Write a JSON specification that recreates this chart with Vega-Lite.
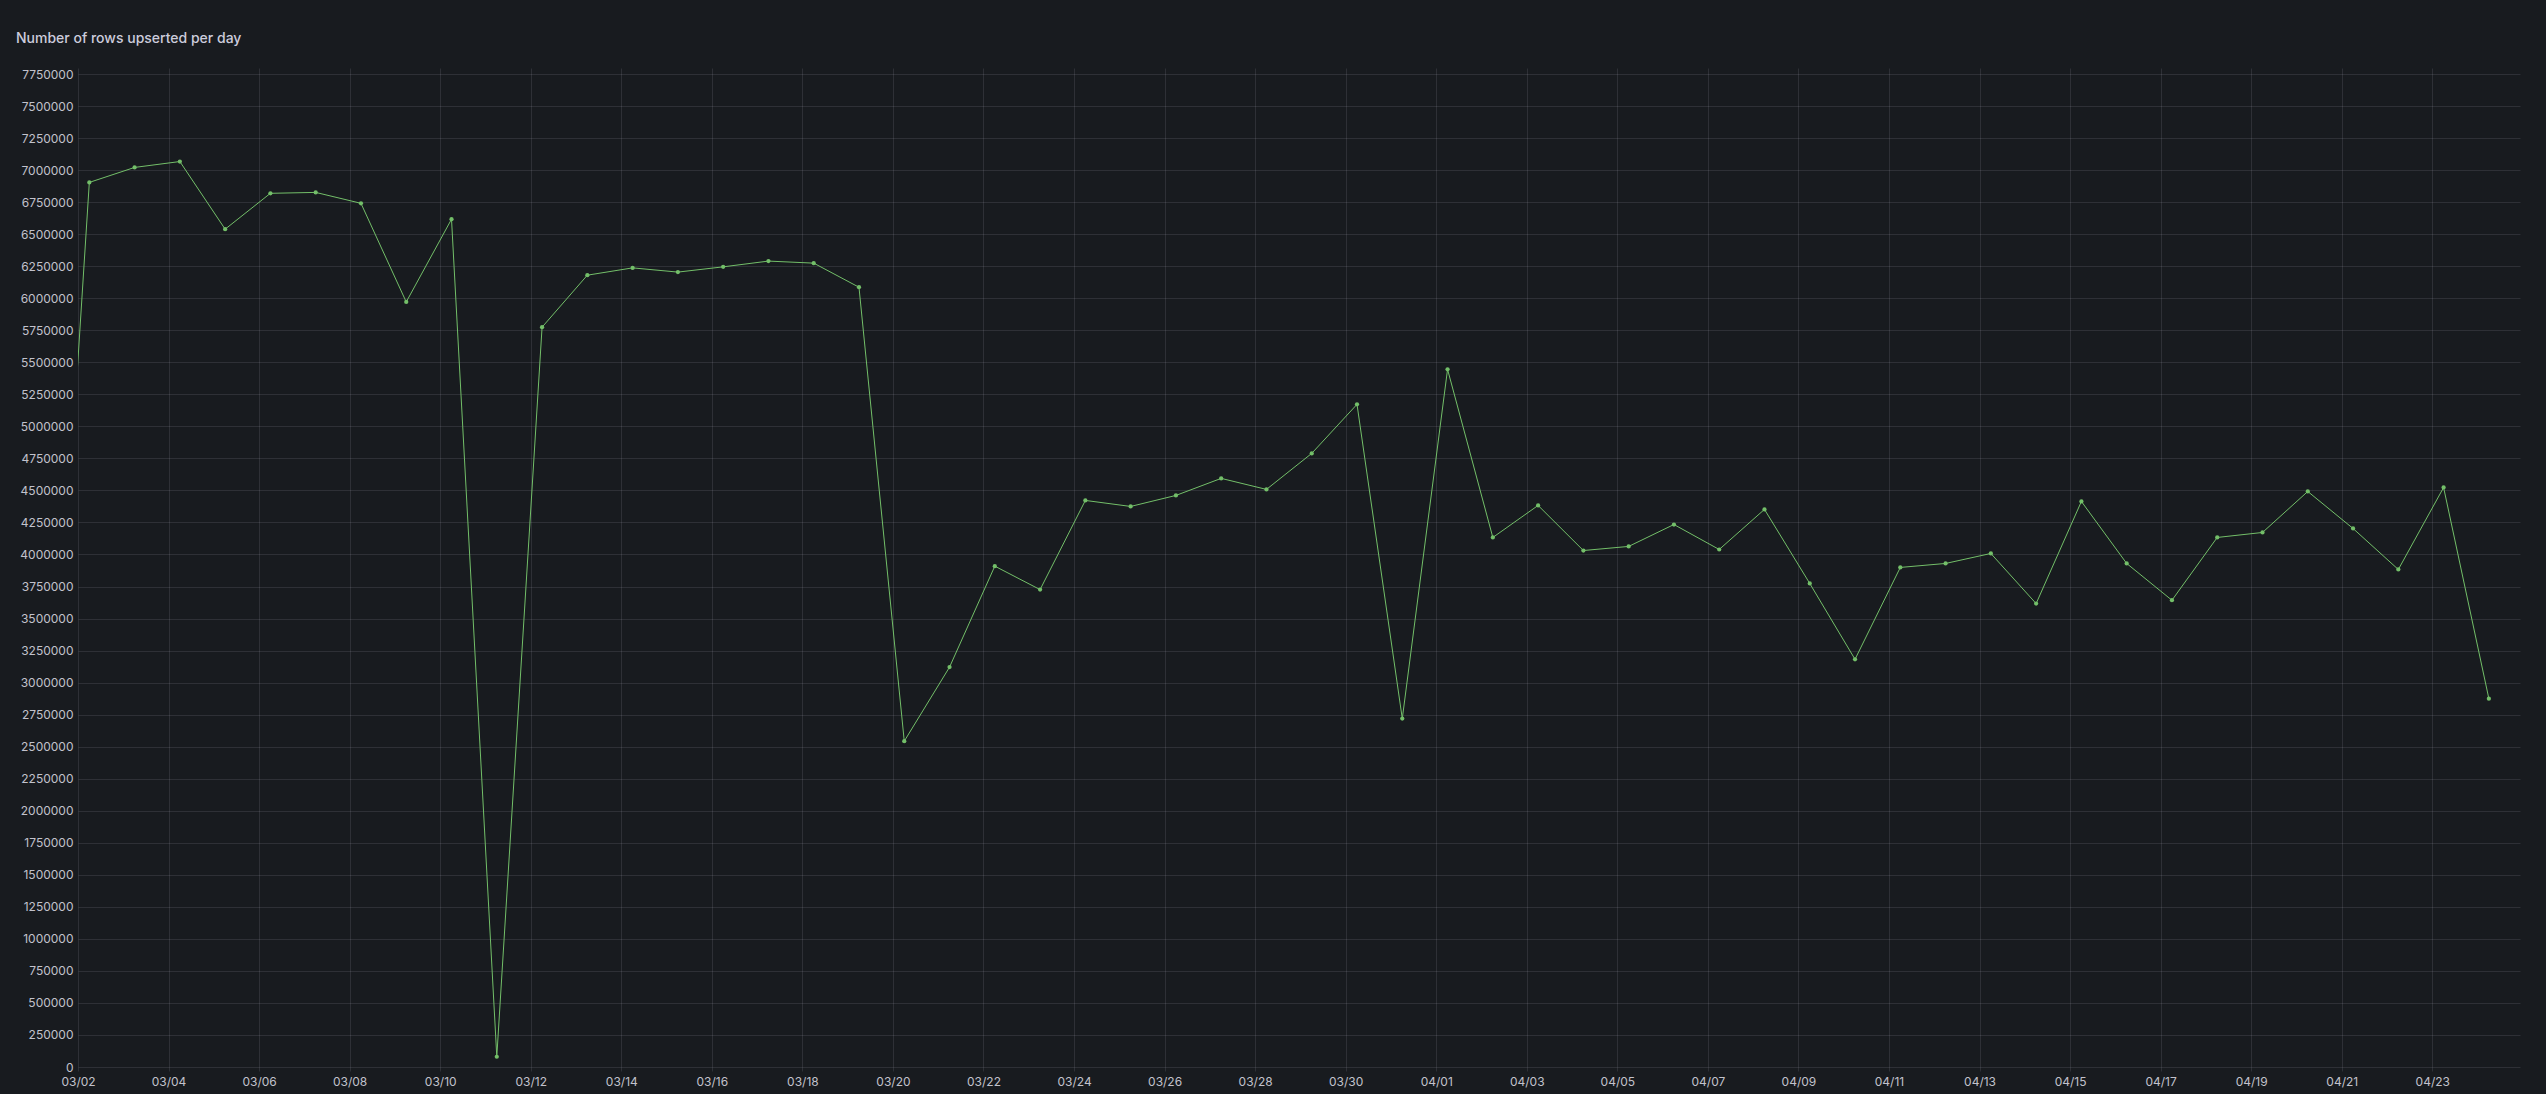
{
  "$schema": "https://vega.github.io/schema/vega-lite/v6.json",
  "width": 2442,
  "height": 999,
  "autosize": {"type": "none"},
  "padding": {"left": 78, "top": 68, "right": 26, "bottom": 27},
  "background": "#181b1f",
  "title": {
    "text": "Number of rows upserted per day",
    "anchor": "start",
    "frame": "group",
    "dx": -62,
    "offset": 22,
    "font": "Inter",
    "fontSize": 14,
    "fontWeight": 500,
    "color": "#ccccdc"
  },
  "data": {
    "values": [
      {"t": "2024-03-01T06:00", "v": 1380000},
      {"t": "2024-03-02T06:00", "v": 6904000},
      {"t": "2024-03-03T06:00", "v": 7021000},
      {"t": "2024-03-04T06:00", "v": 7067000},
      {"t": "2024-03-05T06:00", "v": 6539000},
      {"t": "2024-03-06T06:00", "v": 6819000},
      {"t": "2024-03-07T06:00", "v": 6826000},
      {"t": "2024-03-08T06:00", "v": 6741000},
      {"t": "2024-03-09T06:00", "v": 5971000},
      {"t": "2024-03-10T06:00", "v": 6617000},
      {"t": "2024-03-11T06:00", "v": 80000},
      {"t": "2024-03-12T06:00", "v": 5774000},
      {"t": "2024-03-13T06:00", "v": 6180000},
      {"t": "2024-03-14T06:00", "v": 6237000},
      {"t": "2024-03-15T06:00", "v": 6204000},
      {"t": "2024-03-16T06:00", "v": 6245000},
      {"t": "2024-03-17T06:00", "v": 6290000},
      {"t": "2024-03-18T06:00", "v": 6274000},
      {"t": "2024-03-19T06:00", "v": 6086000},
      {"t": "2024-03-20T06:00", "v": 2543000},
      {"t": "2024-03-21T06:00", "v": 3121000},
      {"t": "2024-03-22T06:00", "v": 3909000},
      {"t": "2024-03-23T06:00", "v": 3726000},
      {"t": "2024-03-24T06:00", "v": 4422000},
      {"t": "2024-03-25T06:00", "v": 4375000},
      {"t": "2024-03-26T06:00", "v": 4461000},
      {"t": "2024-03-27T06:00", "v": 4594000},
      {"t": "2024-03-28T06:00", "v": 4508000},
      {"t": "2024-03-29T06:00", "v": 4789000},
      {"t": "2024-03-30T06:00", "v": 5172000},
      {"t": "2024-03-31T06:00", "v": 2719000},
      {"t": "2024-04-01T06:00", "v": 5445000},
      {"t": "2024-04-02T06:00", "v": 4133000},
      {"t": "2024-04-03T06:00", "v": 4383000},
      {"t": "2024-04-04T06:00", "v": 4031000},
      {"t": "2024-04-05T06:00", "v": 4063000},
      {"t": "2024-04-06T06:00", "v": 4234000},
      {"t": "2024-04-07T06:00", "v": 4039000},
      {"t": "2024-04-08T06:00", "v": 4352000},
      {"t": "2024-04-09T06:00", "v": 3774000},
      {"t": "2024-04-10T06:00", "v": 3182000},
      {"t": "2024-04-11T06:00", "v": 3899000},
      {"t": "2024-04-12T06:00", "v": 3930000},
      {"t": "2024-04-13T06:00", "v": 4008000},
      {"t": "2024-04-14T06:00", "v": 3617000},
      {"t": "2024-04-15T06:00", "v": 4414000},
      {"t": "2024-04-16T06:00", "v": 3930000},
      {"t": "2024-04-17T06:00", "v": 3643000},
      {"t": "2024-04-18T06:00", "v": 4133000},
      {"t": "2024-04-19T06:00", "v": 4172000},
      {"t": "2024-04-20T06:00", "v": 4492000},
      {"t": "2024-04-21T06:00", "v": 4203000},
      {"t": "2024-04-22T06:00", "v": 3883000},
      {"t": "2024-04-23T06:00", "v": 4523000},
      {"t": "2024-04-24T06:00", "v": 2875000}
    ]
  },
  "encoding": {
    "x": {
      "field": "t",
      "type": "temporal",
      "title": null,
      "scale": {
        "domain": [
          {"year": 2024, "month": 3, "date": 2},
          {"year": 2024, "month": 4, "date": 24, "hours": 22, "minutes": 30}
        ],
        "nice": false
      },
      "axis": {
        "format": "%m/%d",
        "values": [
          {"year": 2024, "month": 3, "date": 2},
          {"year": 2024, "month": 3, "date": 4},
          {"year": 2024, "month": 3, "date": 6},
          {"year": 2024, "month": 3, "date": 8},
          {"year": 2024, "month": 3, "date": 10},
          {"year": 2024, "month": 3, "date": 12},
          {"year": 2024, "month": 3, "date": 14},
          {"year": 2024, "month": 3, "date": 16},
          {"year": 2024, "month": 3, "date": 18},
          {"year": 2024, "month": 3, "date": 20},
          {"year": 2024, "month": 3, "date": 22},
          {"year": 2024, "month": 3, "date": 24},
          {"year": 2024, "month": 3, "date": 26},
          {"year": 2024, "month": 3, "date": 28},
          {"year": 2024, "month": 3, "date": 30},
          {"year": 2024, "month": 4, "date": 1},
          {"year": 2024, "month": 4, "date": 3},
          {"year": 2024, "month": 4, "date": 5},
          {"year": 2024, "month": 4, "date": 7},
          {"year": 2024, "month": 4, "date": 9},
          {"year": 2024, "month": 4, "date": 11},
          {"year": 2024, "month": 4, "date": 13},
          {"year": 2024, "month": 4, "date": 15},
          {"year": 2024, "month": 4, "date": 17},
          {"year": 2024, "month": 4, "date": 19},
          {"year": 2024, "month": 4, "date": 21},
          {"year": 2024, "month": 4, "date": 23}
        ],
        "labelAngle": 0,
        "labelPadding": 5,
        "ticks": true,
        "tickSize": 4,
        "tickColor": "#ccccdc",
        "tickOpacity": 0.12,
        "labelFlush": false,
        "labelOverlap": false
      }
    },
    "y": {
      "field": "v",
      "type": "quantitative",
      "title": null,
      "scale": {"domain": [0, 7797000], "nice": false, "zero": true},
      "axis": {
        "values": [0, 250000, 500000, 750000, 1000000, 1250000, 1500000, 1750000, 2000000, 2250000, 2500000, 2750000, 3000000, 3250000, 3500000, 3750000, 4000000, 4250000, 4500000, 4750000, 5000000, 5250000, 5500000, 5750000, 6000000, 6250000, 6500000, 6750000, 7000000, 7250000, 7500000, 7750000],
        "format": "d",
        "ticks": false,
        "labelPadding": 5,
        "labelOverlap": false
      }
    }
  },
  "layer": [
    {"mark": {"type": "line", "color": "#73bf69", "strokeWidth": 1, "clip": true}},
    {"mark": {"type": "point", "filled": true, "size": 18, "color": "#73bf69", "opacity": 1, "clip": true}}
  ],
  "config": {
    "view": {"stroke": null},
    "font": "Inter",
    "axis": {
      "domain": false,
      "grid": true,
      "gridColor": "#ccccdc",
      "gridOpacity": 0.12,
      "gridWidth": 1,
      "labelFont": "Inter",
      "labelFontSize": 12,
      "labelColor": "#c2c2cc"
    }
  }
}
